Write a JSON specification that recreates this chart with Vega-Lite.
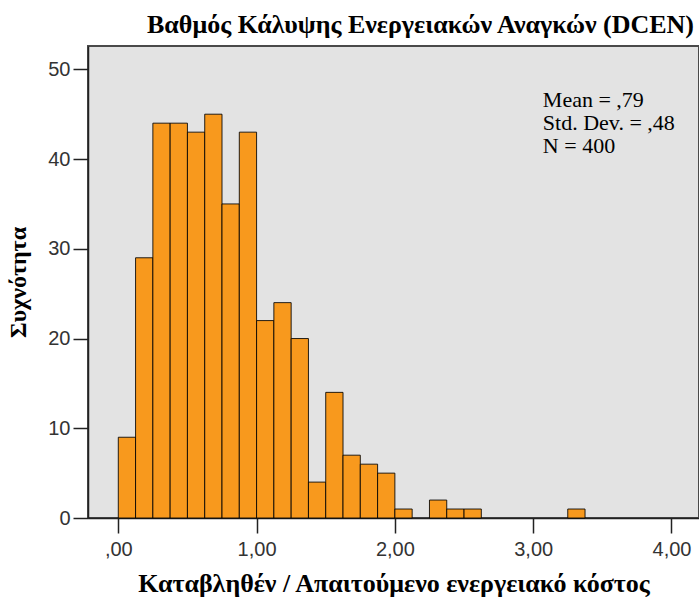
{
  "$schema": "https://vega.github.io/schema/vega-lite/v6.json",
  "width": 611,
  "height": 472,
  "autosize": {"type": "none"},
  "padding": {"left": 88, "top": 46, "right": 0, "bottom": 85},
  "background": "white",
  "title": {
    "text": "Βαθμός Κάλυψης Ενεργειακών Αναγκών (DCEN)",
    "font": "Liberation Serif",
    "fontSize": 26,
    "fontWeight": "bold",
    "color": "#000000",
    "anchor": "middle",
    "dx": 27,
    "offset": 8
  },
  "config": {
    "view": {"fill": "#E3E3E3", "stroke": "#4a4a4a", "strokeWidth": 2},
    "axis": {"grid": false}
  },
  "datasets": {
    "bins": [
      {"start": 0.0, "end": 0.125, "count": 9},
      {"start": 0.125, "end": 0.25, "count": 29},
      {"start": 0.25, "end": 0.375, "count": 44},
      {"start": 0.375, "end": 0.5, "count": 44},
      {"start": 0.5, "end": 0.625, "count": 43},
      {"start": 0.625, "end": 0.75, "count": 45},
      {"start": 0.75, "end": 0.875, "count": 35},
      {"start": 0.875, "end": 1.0, "count": 43},
      {"start": 1.0, "end": 1.125, "count": 22},
      {"start": 1.125, "end": 1.25, "count": 24},
      {"start": 1.25, "end": 1.375, "count": 20},
      {"start": 1.375, "end": 1.5, "count": 4},
      {"start": 1.5, "end": 1.625, "count": 14},
      {"start": 1.625, "end": 1.75, "count": 7},
      {"start": 1.75, "end": 1.875, "count": 6},
      {"start": 1.875, "end": 2.0, "count": 5},
      {"start": 2.0, "end": 2.125, "count": 1},
      {"start": 2.25, "end": 2.375, "count": 2},
      {"start": 2.375, "end": 2.5, "count": 1},
      {"start": 2.5, "end": 2.625, "count": 1},
      {"start": 3.25, "end": 3.375, "count": 1}
    ],
    "stats": [
      {"x": 3.07, "y": 45.8, "label": ["Mean = ,79", "Std. Dev. = ,48", "N = 400"]}
    ]
  },
  "layer": [
    {
      "data": {"name": "bins"},
      "mark": {"type": "bar", "orient": "vertical", "fill": "#F8991D", "stroke": "#000000", "strokeWidth": 1, "strokeOpacity": 0.85},
      "encoding": {
        "x": {
          "field": "start",
          "type": "quantitative",
          "scale": {"domain": [-0.219, 4.199], "nice": false, "zero": false, "padding": 0},
          "axis": {
            "values": [0, 1, 2, 3, 4],
            "labelExpr": "datum.value == 0 ? ',00' : replace(format(datum.value, '.2f'), '.', ',')",
            "title": "Καταβληθέν / Απαιτούμενο ενεργειακό κόστος",
            "titleFont": "Liberation Serif",
            "titleFontSize": 26,
            "titleFontWeight": "bold",
            "titleColor": "#000000",
            "titlePadding": 11,
            "labelFont": "Liberation Sans",
            "labelFontSize": 20,
            "labelColor": "#333333",
            "labelPadding": 6,
            "tickSize": 15,
            "tickColor": "#222222",
            "tickWidth": 1.5,
            "domainColor": "#222222",
            "domainWidth": 1.5
          }
        },
        "x2": {"field": "end"},
        "y": {
          "field": "count",
          "type": "quantitative",
          "scale": {"domain": [0, 52.6], "nice": false, "zero": true, "padding": 0},
          "axis": {
            "values": [0, 10, 20, 30, 40, 50],
            "title": "Συχνότητα",
            "titleFont": "Liberation Serif",
            "titleFontSize": 24,
            "titleFontWeight": "bold",
            "titleColor": "#000000",
            "titlePadding": 17,
            "labelFont": "Liberation Sans",
            "labelFontSize": 20,
            "labelColor": "#333333",
            "labelPadding": 3,
            "tickSize": 15,
            "tickColor": "#222222",
            "tickWidth": 1.5,
            "domainColor": "#222222",
            "domainWidth": 1.5
          }
        },
        "y2": {"datum": 0}
      }
    },
    {
      "data": {"name": "stats"},
      "mark": {"type": "text", "align": "left", "baseline": "alphabetic", "font": "Liberation Serif", "fontSize": 22, "lineHeight": 23, "color": "#000000"},
      "encoding": {
        "x": {"field": "x", "type": "quantitative"},
        "y": {"field": "y", "type": "quantitative"},
        "text": {"field": "label"}
      }
    }
  ]
}
